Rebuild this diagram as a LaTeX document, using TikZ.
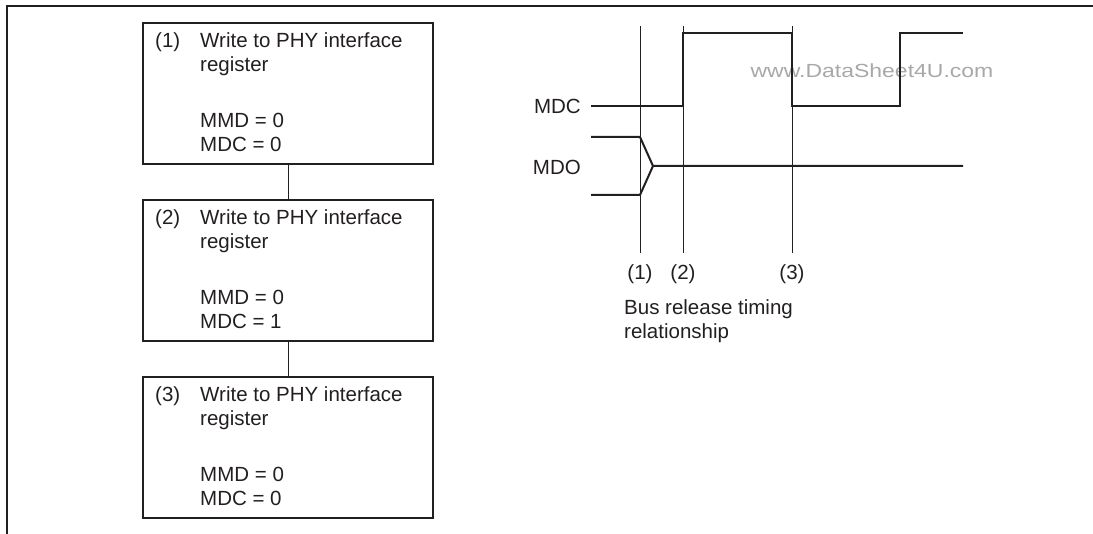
\documentclass[tikz,border=0pt]{standalone}
\usepackage{fontspec}
\setmainfont{Liberation Sans}
\usetikzlibrary{positioning,calc}
\definecolor{ink}{HTML}{231F20}
\definecolor{wmark}{HTML}{A8A8A8}
\tikzset{
  regbox/.style={draw=ink,line width=2pt,minimum width=290pt,minimum height=141pt,inner sep=0pt,outer sep=0pt},
  boxtext/.style={inner sep=0pt,text=ink,font=\fontsize{20.5}{24}\selectfont},
  siglabel/.style={inner sep=0pt,text=ink,font=\fontsize{20.5}{24}\selectfont},
  wave/.style={draw=ink,line width=2pt},
  guide/.style={draw=ink,line width=0.9pt},
  link/.style={draw=ink,line width=0.9pt}
}
\newcommand{\regtext}[3]{%
  \begin{tabular}{@{}p{45pt}@{}l@{}}
  #1 & Write to PHY interface\\
     & register\\[32pt]
     & MMD = #2\\
     & MDC = #3
  \end{tabular}}
\begin{document}
\begin{tikzpicture}[x=1pt,y=-1pt]
\useasboundingbox (0,0) rectangle (1093,534);
\draw[ink,line width=2.4pt] (1093,6) -- (7,6) -- (7,534);

\node[regbox] (w1) at (288,93.5) {};
\node[regbox,below=36pt of w1] (w2) {};
\node[regbox,below=36pt of w2] (w3) {};
\node[boxtext,below right=7.7pt and 12pt of w1.north west] (t1) {\regtext{(1)}{0}{0}};
\node[boxtext,below right=7.7pt and 12pt of w2.north west] (t2) {\regtext{(2)}{0}{1}};
\node[boxtext,below right=7.7pt and 12pt of w3.north west] (t3) {\regtext{(3)}{0}{0}};
\draw[link] (w1.south) -- (w2.north);
\draw[link] (w2.south) -- (w3.north);

\node[siglabel,anchor=east] (mdc) at (581,106) {MDC};
\node[siglabel,anchor=east] (mdo) at (581,167) {MDO};
\node[text=wmark,inner sep=0pt,font=\fontsize{19}{20}\selectfont,xscale=1.21,transform shape] (wm) at (872,71) {www.DataSheet4U.com};

\draw[guide] (640,26) -- (640,253);
\draw[guide] (683,26) -- (683,253);
\draw[guide] (792,26) -- (792,253);
\node[siglabel] (p1) at (640,274) {(1)};
\node[siglabel] (p2) at (683,274) {(2)};
\node[siglabel] (p3) at (792,274) {(3)};
\node[siglabel,anchor=north west,align=left] (bus) at (624,299) {Bus release timing\\relationship};

\draw[wave] (591,106) -- (683,106) -- (683,33) -- (792,33) -- (792,106) -- (900,106) -- (900,33) -- (963,33);
\draw[wave] (591,137) -- (640,137) -- (653,166) -- (963,166);
\draw[wave] (591,195) -- (640,195) -- (653,166);
\end{tikzpicture}
\end{document}
